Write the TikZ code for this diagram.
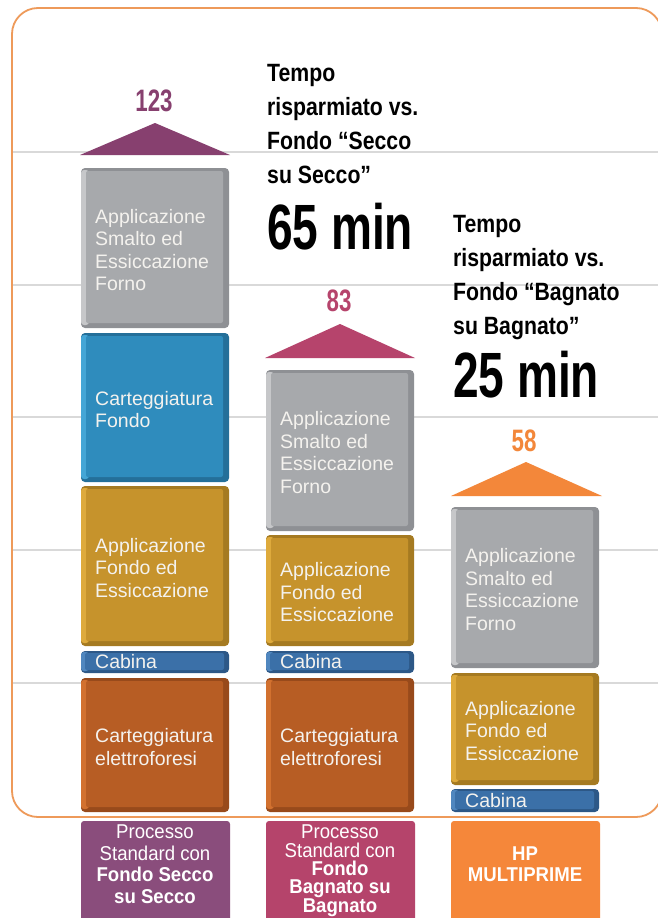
\documentclass[tikz,border=0pt]{standalone}
\usepackage{fontspec}
\setmainfont{Liberation Sans}
\newfontfamily\numfont[FakeStretch=0.72]{Liberation Sans}
\newfontfamily\headfont[FakeStretch=0.85]{Liberation Sans}
\newfontfamily\lblfont[FakeStretch=0.93]{Liberation Sans}
\definecolor{frameC}{HTML}{EE9A5A}
\definecolor{gridC}{HTML}{D9D9D9}
\definecolor{purp}{HTML}{87406F}
\definecolor{mag}{HTML}{B6446C}
\definecolor{orng}{HTML}{F3873A}
\definecolor{gry}{HTML}{A7A9AC}\definecolor{gryD}{HTML}{8E9094}\definecolor{gryL}{HTML}{C6C7C9}
\definecolor{blu}{HTML}{2F8CBD}\definecolor{bluD}{HTML}{246F99}\definecolor{bluL}{HTML}{45A6D6}
\definecolor{gld}{HTML}{C6932C}\definecolor{gldD}{HTML}{A57A21}\definecolor{gldL}{HTML}{DEAA3C}
\definecolor{cab}{HTML}{3B70A8}\definecolor{cabD}{HTML}{2D5887}\definecolor{cabL}{HTML}{5087BF}
\definecolor{brn}{HTML}{B75D24}\definecolor{brnD}{HTML}{984A1B}\definecolor{brnL}{HTML}{D2712F}
\definecolor{txtW}{HTML}{F4F2EE}
\definecolor{labA}{HTML}{8A4D7C}
\definecolor{labB}{HTML}{B5446B}
\definecolor{labC}{HTML}{F5873A}
\tikzset{
  boxtxt/.style={text=txtW, font=\fontsize{19.5}{22.5}\selectfont, align=left, inner sep=0pt},
  numtxt/.style={font=\numfont\bfseries\fontsize{31}{31}\selectfont, inner sep=0pt},
  headtxt/.style={font=\headfont\bfseries\fontsize{25}{34}\selectfont, align=left, inner sep=0pt, text=black},
  bigtxt/.style={font=\numfont\bfseries\fontsize{64}{64}\selectfont, inner sep=0pt, text=black},
  lbltxt/.style={text=white, align=center, inner sep=0pt},
  gridline/.style={draw=gridC, line width=1.1pt},
  framebox/.style={draw=frameC, line width=1.8pt, rounded corners=26pt},
}
\newcommand\bevbox[7]{%
  \fill[#6D,rounded corners=4pt] (#2,#3) rectangle (#4,#5);
  \fill[#6L,rounded corners=3pt] (#2,#3+2) rectangle (#2+8,#5-3);
  \fill[#6,rounded corners=2pt] (#2+5,#3+3) rectangle (#4-6,#5-5);
  \node[boxtxt,anchor=west] (#1) at (#2+14,{(#3+#5)/2+2}) {#7};
}
\newcommand\cabbox[5]{%
  \fill[cabD,rounded corners=4pt] (#2,#3) rectangle (#4,#5);
  \fill[cabL,rounded corners=3pt] (#2,#3+1) rectangle (#2+8,#5-2);
  \fill[cab,rounded corners=2pt] (#2+4,#3+2) rectangle (#4-5,#5-3);
  \node[boxtxt,anchor=west] (#1) at (#2+14,{(#3+#5)/2}) {Cabina};
}
\begin{document}
\begin{tikzpicture}[x=1pt,y=-1pt]
\useasboundingbox (0,0) rectangle (658,918);
\clip (0,0) rectangle (658,918);
\fill[white] (0,0) rectangle (658,918);
% grid lines
\foreach \yy in {152,285,417,550,683} {
  \draw[gridline] (12,\yy) -- (658,\yy);
}
% frame
\draw[framebox] (12,8) rectangle (662,817);
% column 1
\fill[purp] (80,155) -- (155,123) -- (230,155) -- cycle;
\node[numtxt,text=purp] (n1) at (154,100.5) {123};
\bevbox{a1}{81}{168}{229}{328}{gry}{Applicazione\\Smalto ed\\Essiccazione\\Forno}
\bevbox{a2}{81}{333}{229}{482}{blu}{Carteggiatura\\Fondo}
\bevbox{a3}{81}{486}{229}{646}{gld}{Applicazione\\Fondo ed\\Essiccazione}
\cabbox{a4}{81}{651}{229}{673}
\bevbox{a5}{81}{678}{229}{812}{brn}{Carteggiatura\\elettroforesi}
% column 2
\fill[mag] (265,358) -- (340,324) -- (415,358) -- cycle;
\node[numtxt,text=mag] (n2) at (339,301) {83};
\bevbox{b1}{266}{370}{414}{531}{gry}{Applicazione\\Smalto ed\\Essiccazione\\Forno}
\bevbox{b2}{266}{535}{414}{646}{gld}{Applicazione\\Fondo ed\\Essiccazione}
\cabbox{b3}{266}{651}{414}{673}
\bevbox{b4}{266}{678}{414}{812}{brn}{Carteggiatura\\elettroforesi}
% column 3
\fill[orng] (451,496) -- (526,462) -- (602,496) -- cycle;
\node[numtxt,text=orng] (n3) at (524,441) {58};
\bevbox{c1}{451}{507}{599}{668}{gry}{Applicazione\\Smalto ed\\Essiccazione\\Forno}
\bevbox{c2}{451}{673}{599}{785}{gld}{Applicazione\\Fondo ed\\Essiccazione}
\cabbox{c3}{451}{789}{599}{812}
% headlines
\node[headtxt,anchor=north west] (h1) at (267,64) {Tempo\\risparmiato vs.\\Fondo “Secco\\su Secco”};
\node[bigtxt,anchor=base west] (m1) at (267,249) {65 min};
\node[headtxt,anchor=north west] (h2) at (453,215) {Tempo\\risparmiato vs.\\Fondo “Bagnato\\su Bagnato”};
\node[bigtxt,anchor=base west] (m2) at (453,397) {25 min};
% bottom labels
\fill[labA,rounded corners=3pt] (81,821) rectangle (230,930);
\fill[labB,rounded corners=3pt] (266,821) rectangle (415,930);
\fill[labC,rounded corners=3pt] (451,821) rectangle (600,930);
\node[lbltxt,anchor=north,font=\lblfont\fontsize{20}{21.5}\selectfont] (l1) at (155,825)
  {Processo\\Standard con\\\textbf{Fondo Secco}\\\textbf{su Secco}};
\node[lbltxt,anchor=north,font=\lblfont\fontsize{20}{18.3}\selectfont] (l2) at (340,825)
  {Processo\\Standard con\\\textbf{Fondo}\\\textbf{Bagnato su}\\\textbf{Bagnato}};
\node[lbltxt,anchor=north,font=\lblfont\bfseries\fontsize{20}{21}\selectfont] (l3) at (525,847)
  {HP\\MULTIPRIME};
\end{tikzpicture}
\end{document}
